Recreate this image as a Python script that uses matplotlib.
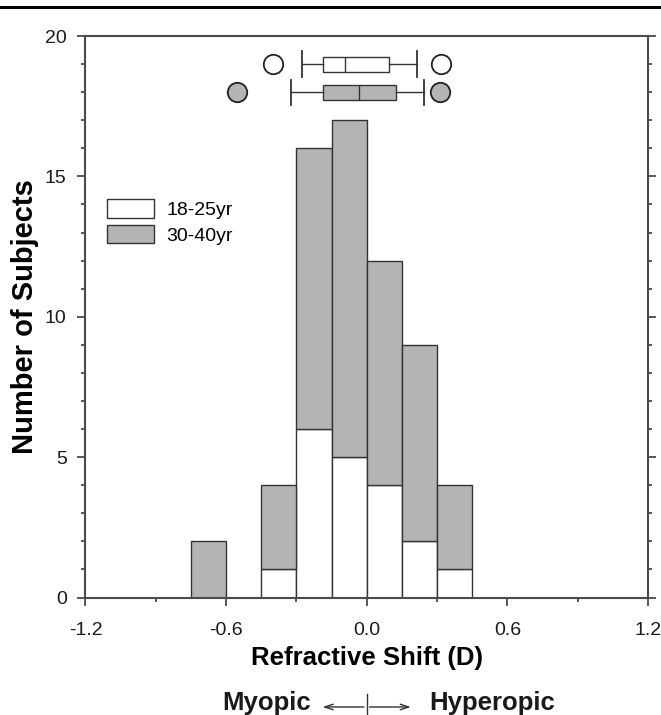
import numpy as np
import matplotlib.pyplot as plt
import matplotlib.transforms as mtransforms
from matplotlib.lines import Line2D

plt.rcParams['font.family'] = ['Liberation Sans', 'DejaVu Sans']

# --- Histogram data (bin width 0.15 D) ---
bin_left = [-0.75, -0.45, -0.30, -0.15, 0.00, 0.15, 0.30]
young_counts = [0, 1, 6, 5, 4, 2, 1]      # 18-25yr
older_counts = [2, 3, 10, 12, 8, 7, 3]    # 30-40yr (stacked on top)
bin_width = 0.15
group_labels = ['18-25yr', '30-40yr']

# --- Box plot summaries (D) ---
box_whislo = [-0.278, -0.323]
box_q1 = [-0.188, -0.188]
box_med = [-0.091, -0.033]
box_q3 = [0.096, 0.125]
box_whishi = [0.216, 0.246]
box_fliers = [[-0.401, 0.316], [-0.555, 0.313]]
box_rows = [19, 18]

gray = '#b4b4b4'
edge = '#333333'
spine_c = '#4a4a4a'

fig = plt.figure(figsize=(6.61, 7.15), dpi=100)
ax = fig.add_axes([0.1293, 0.1643, 0.851, 0.7853])

ax.bar(bin_left, young_counts, width=bin_width, align='edge', color='white',
       edgecolor=edge, linewidth=1.0, label=group_labels[0])
ax.bar(bin_left, older_counts, width=bin_width, align='edge', bottom=young_counts,
       color=gray, edgecolor=edge, linewidth=1.0, label=group_labels[1])

stats = []
for i in range(2):
    stats.append(dict(whislo=box_whislo[i], q1=box_q1[i], med=box_med[i],
                      q3=box_q3[i], whishi=box_whishi[i], fliers=box_fliers[i]))
bp = ax.bxp(stats, positions=box_rows, widths=0.53, capwidths=0.9,
            orientation='horizontal', patch_artist=True, manage_ticks=False,
            boxprops=dict(edgecolor=edge, linewidth=1.0),
            medianprops=dict(color=edge, linewidth=1.0),
            whiskerprops=dict(color=edge, linewidth=1.0),
            capprops=dict(color=edge, linewidth=1.3),
            flierprops=dict(marker='o', markersize=14, markeredgecolor='#222222',
                            markeredgewidth=1.3))
for patch, fc in zip(bp['boxes'], ['white', gray]):
    patch.set_facecolor(fc)
for fl, fc in zip(bp['fliers'], ['white', gray]):
    fl.set_markerfacecolor(fc)

ax.set_xlim(-1.2, 1.2)
ax.set_ylim(0, 20)
ax.set_xticks([-1.2, -0.6, 0.0, 0.6, 1.2])
ax.set_xticks([-0.9, -0.3, 0.3, 0.9], minor=True)
ax.set_xticklabels(['-1.2', '-0.6', '0.0', '0.6', '1.2'])
ax.set_yticks([0, 5, 10, 15, 20])
ax.set_yticks(np.arange(0, 21, 1), minor=True)

for s in ax.spines.values():
    s.set_color(spine_c)
    s.set_linewidth(1.5)
ax.tick_params(which='both', direction='out', color=spine_c, width=1.3,
               right=True, top=False, labelsize=14, labelcolor='#1a1a1a')
ax.tick_params(which='major', length=5.5)
ax.tick_params(which='minor', length=3)
ax.tick_params(axis='x', which='major', pad=12)
ax.tick_params(axis='y', which='major', pad=8)

ax.set_xlabel('Refractive Shift (D)', fontsize=18.5, fontweight='bold', labelpad=5)
ax.set_ylabel('Number of Subjects', fontsize=21, fontweight='bold', labelpad=4.5)

ax.legend(loc='upper left', bbox_to_anchor=(0.0382, 0.7097), frameon=False,
          fontsize=14, handlelength=2.4, handleheight=1.1, handletextpad=0.65,
          labelspacing=0.3, borderpad=0, borderaxespad=0)

# Myopic / Hyperopic direction note below the x label
trans = mtransforms.blended_transform_factory(ax.transData, fig.transFigure)
yarr = 1 - 707 / 715
ax.annotate('', xy=(-0.2, yarr), xytext=(0.0, yarr), xycoords=trans,
            textcoords=trans, annotation_clip=False,
            arrowprops=dict(arrowstyle='->,head_length=0.6,head_width=0.2',
                            color=edge, lw=1.0))
ax.annotate('', xy=(0.2, yarr), xytext=(0.0, yarr), xycoords=trans,
            textcoords=trans, annotation_clip=False,
            arrowprops=dict(arrowstyle='->,head_length=0.6,head_width=0.2',
                            color=edge, lw=1.0))
fig.add_artist(Line2D([0, 0], [1 - 694 / 715, 0.0], transform=trans,
                      color=edge, lw=1.0))
fig.text(311 / 661, 1 - 703 / 715, 'Myopic', ha='right', va='center',
         fontsize=18.5, fontweight='bold', color='#1a1a1a')
fig.text(429 / 661, 1 - 703 / 715, 'Hyperopic', ha='left', va='center',
         fontsize=18.5, fontweight='bold', color='#1a1a1a')

# top rule
fig.add_artist(Line2D([0, 1], [1 - 7 / 715, 1 - 7 / 715], color='black', lw=2.2))

fig.savefig('out.png', dpi=100)
